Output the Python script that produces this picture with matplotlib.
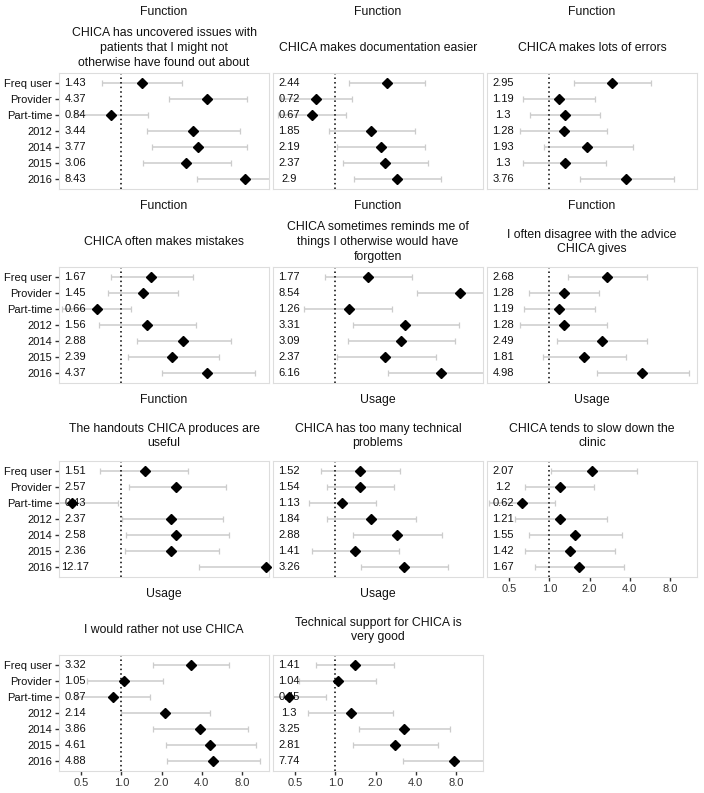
import numpy as np
import matplotlib
matplotlib.use("Agg")
import matplotlib.pyplot as plt

plt.rcParams['font.family'] = ['Liberation Sans', 'DejaVu Sans']

groups = ["Freq user", "Provider", "Part-time", "2012", "2014", "2015", "2016"]

titles = [
    "CHICA has uncovered issues with\npatients that I might not\notherwise have found out about",
    "CHICA makes documentation easier",
    "CHICA makes lots of errors",
    "CHICA often makes mistakes",
    "CHICA sometimes reminds me of\nthings I otherwise would have\nforgotten",
    "I often disagree with the advice\nCHICA gives",
    "The handouts CHICA produces are\nuseful",
    "CHICA has too many technical\nproblems",
    "CHICA tends to slow down the\nclinic",
    "I would rather not use CHICA",
    "Technical support for CHICA is\nvery good",
]
domains = ["Function", "Function", "Function", "Function", "Function", "Function",
           "Function", "Usage", "Usage", "Usage", "Usage"]

# odds ratios (rows follow groups)
odds = [
    [1.43, 4.37, 0.84, 3.44, 3.77, 3.06, 8.43],
    [2.44, 0.72, 0.67, 1.85, 2.19, 2.37, 2.9],
    [2.95, 1.19, 1.3, 1.28, 1.93, 1.3, 3.76],
    [1.67, 1.45, 0.66, 1.56, 2.88, 2.39, 4.37],
    [1.77, 8.54, 1.26, 3.31, 3.09, 2.37, 6.16],
    [2.68, 1.28, 1.19, 1.28, 2.49, 1.81, 4.98],
    [1.51, 2.57, 0.43, 2.37, 2.58, 2.36, 12.17],
    [1.52, 1.54, 1.13, 1.84, 2.88, 1.41, 3.26],
    [2.07, 1.2, 0.62, 1.21, 1.55, 1.42, 1.67],
    [3.32, 1.05, 0.87, 2.14, 3.86, 4.61, 4.88],
    [1.41, 1.04, 0.45, 1.3, 3.25, 2.81, 7.74],
]
lower = [
    [0.71, 2.29, 0.44, 1.56, 1.70, 1.45, 3.69],
    [1.27, 0.39, 0.37, 0.89, 1.03, 1.15, 1.39],
    [1.52, 0.64, 0.71, 0.60, 0.91, 0.64, 1.69],
    [0.84, 0.80, 0.36, 0.68, 1.30, 1.12, 2.02],
    [0.84, 4.12, 0.58, 1.35, 1.25, 1.03, 2.48],
    [1.38, 0.70, 0.65, 0.60, 1.15, 0.89, 2.28],
    [0.69, 1.14, 0.19, 1.01, 1.08, 1.06, 3.80],
    [0.78, 0.87, 0.64, 0.86, 1.35, 0.67, 1.56],
    [1.02, 0.66, 0.35, 0.55, 0.70, 0.66, 0.78],
    [1.72, 0.55, 0.46, 1.00, 1.73, 2.15, 2.21],
    [0.71, 0.53, 0.24, 0.62, 1.50, 1.36, 3.21],
]
upper = [
    [2.86, 8.68, 1.59, 7.77, 8.68, 6.61, 19.3],
    [4.70, 1.34, 1.20, 3.95, 4.70, 4.93, 6.17],
    [5.82, 2.19, 2.38, 2.72, 4.24, 2.67, 8.53],
    [3.46, 2.67, 1.18, 3.65, 6.61, 5.37, 9.98],
    [3.73, 17.7, 2.67, 8.38, 7.90, 5.63, 15.3],
    [5.35, 2.35, 2.18, 2.72, 5.43, 3.73, 11.2],
    [3.18, 6.10, 0.95, 5.76, 6.46, 5.40, 39.0],
    [3.05, 2.75, 2.00, 4.02, 6.31, 2.99, 7.00],
    [4.52, 2.15, 1.11, 2.72, 3.48, 3.08, 3.62],
    [6.46, 2.04, 1.65, 4.59, 8.82, 10.2, 11.0],
    [2.75, 2.02, 0.85, 2.70, 7.26, 5.88, 18.7],
]
xticks = [0.5, 1.0, 2.0, 4.0, 8.0]
xtick_labels = ["0.5", "1.0", "2.0", "4.0", "8.0"]

W, H = 704, 793
fig = plt.figure(figsize=(W/100, H/100), dpi=100)

col_left = [59, 273, 487]
row_top = [73, 267, 461, 655]
pw, ph = 210, 116
ypos = np.arange(1, len(groups)+1)
with_xlabels = [8, 9, 10]

for k in range(len(titles)):
    r, c = divmod(k, 3)
    ax = fig.add_axes([col_left[c]/W, 1-(row_top[r]+ph)/H, pw/W, ph/H])
    o = np.array(odds[k]); lo = np.array(lower[k]); hi = np.array(upper[k])
    ax.set_xscale('log', base=2)
    ax.set_xlim(0.341, 12.77)
    ax.set_ylim(7.6, 0.4)
    ax.errorbar(o, ypos, xerr=[o-lo, hi-o], fmt='none', ecolor='#cccccc',
                elinewidth=1.1, capsize=2.4, capthick=0.9, zorder=1)
    ax.axvline(1.0, color='black', ls=(0, (1, 2)), lw=1.1, zorder=2)
    for y, v in zip(ypos, o):
        ax.text(0.45, y, f"{v:g}", ha='center', va='center', fontsize=8,
                color='#111111', zorder=3)
    ax.plot(o, ypos, 'D', color='black', ms=4.8, zorder=4, clip_on=False)
    for s in ax.spines.values():
        s.set_color('#dddddd'); s.set_linewidth(0.8)
    ax.minorticks_off()
    ax.set_xticks(xticks)
    if k in with_xlabels:
        ax.set_xticklabels(xtick_labels)
        ax.tick_params(axis='x', length=3, width=1, color='#333333',
                       labelsize=8, labelcolor='#333333', pad=2)
    else:
        ax.tick_params(axis='x', length=0, labelbottom=False)
    ax.set_yticks(ypos)
    if c == 0:
        ax.set_yticklabels(groups)
        ax.tick_params(axis='y', length=3, width=1, color='#333333',
                       labelsize=8, labelcolor='#111111', pad=2)
    else:
        ax.tick_params(axis='y', length=0, labelleft=False)
    cx = (col_left[c] + pw/2)/W
    fig.text(cx, 1-(row_top[r]-61)/H, domains[k], ha='center', va='center',
             fontsize=8.8, color='#111111')
    fig.text(cx, 1-(row_top[r]-25)/H, titles[k], ha='center', va='center',
             fontsize=8.8, color='#111111', linespacing=1.3)

fig.savefig("out.png", dpi=100, facecolor='white')
